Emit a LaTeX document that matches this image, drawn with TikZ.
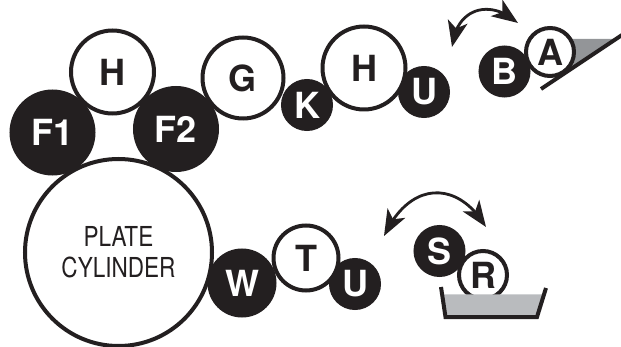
\documentclass[tikz,border=0pt]{standalone}
\usepackage{fontspec}
\setmainfont{TeX Gyre Heros}
\newfontfamily\platefont[FakeStretch=0.82]{TeX Gyre Heros}
\usetikzlibrary{arrows.meta,bending}
\definecolor{inkblack}{HTML}{231F20}
\definecolor{traygray}{HTML}{B9BBBE}
\definecolor{wedgegray}{HTML}{939598}

\begin{document}
\begin{tikzpicture}[x=1pt,y=-1pt]
   \tikzset{dark/.style = {circle, draw=inkblack, fill=inkblack, line width=3pt, inner sep=0pt, text=white, font=\fontsize{36}{36}\selectfont\bfseries} }
   \tikzset{light/.style = {circle, draw=inkblack, fill=white, line width=4pt, inner sep=0pt, text=inkblack, font=\fontsize{36}{36}\selectfont\bfseries} }
   \tikzset{swing/.style = {{Stealth[length=26pt,width=20pt,inset=7pt,flex=0.8]}-{Stealth[length=26pt,width=20pt,inset=7pt,flex=0.8]}, draw=inkblack, line width=2.8pt} }
   \tikzset{edgeline/.style = {draw=inkblack, line width=4pt} }
   \useasboundingbox (0,0) rectangle (621,347);

   % wedge of the upper pan
   \fill[wedgegray] (570,39) -- (618,39) -- (570,71) -- cycle;

   % dark rollers first, the white ones lie on them
   \node[dark, minimum size=83pt] (F1) at (52.5,132.5) {F1};
   \node[dark, minimum size=83pt] (F2) at (176,129) {F2};
   \node[dark, minimum size=49pt] (K) at (307,105) {K};
   \node[dark, minimum size=49pt] (U1) at (424,92) {U};
   \node[dark, minimum size=49pt] (B) at (504.5,71.5) {B};
   \node[dark, minimum size=49pt] (U2) at (355,284) {U};
   \node[dark, minimum size=49pt] (S) at (439.5,251) {S};

   \node[light, minimum size=83pt] (H1) at (112.5,72) {H};
   \node[light, minimum size=81pt] (G) at (243,78) {G};
   \node[light, minimum size=83pt] (H2) at (364,68) {H};
   \node[light, minimum size=48pt] (A) at (550,52) {A};
   \node[light, minimum size=65pt] (T) at (306,258) {T};
   \node[light, minimum size=48pt] (R) at (483,275) {R};
   \node[light, minimum size=187pt, align=center, font=\fontsize{27.5}{31}\platefont] (plate) at (118.5,252.5) {PLATE\\CYLINDER};
   \node[dark, minimum size=66pt] (W) at (242,283) {W};

   % pans
   \draw[edgeline] (541,89) -- (622,35);
   \fill[traygray] (442.5,294.5) -- (543.5,294.5) -- (536,317) -- (446,317) -- cycle;
   \draw[edgeline] (441,287) -- (445.5,317) -- (537,317) -- (546,288);

   % swing of the rollers
   \coordinate (swingA) at (452,47);
   \coordinate (swingB) at (518,23);
   \coordinate (swingC) at (384,236);
   \coordinate (swingD) at (486,227);
   \draw[swing] (swingA) .. controls (456,8) and (490,-2) .. (swingB);
   \draw[swing] (swingC) .. controls (410,180) and (458,180) .. (swingD);
\end{tikzpicture}
\end{document}
